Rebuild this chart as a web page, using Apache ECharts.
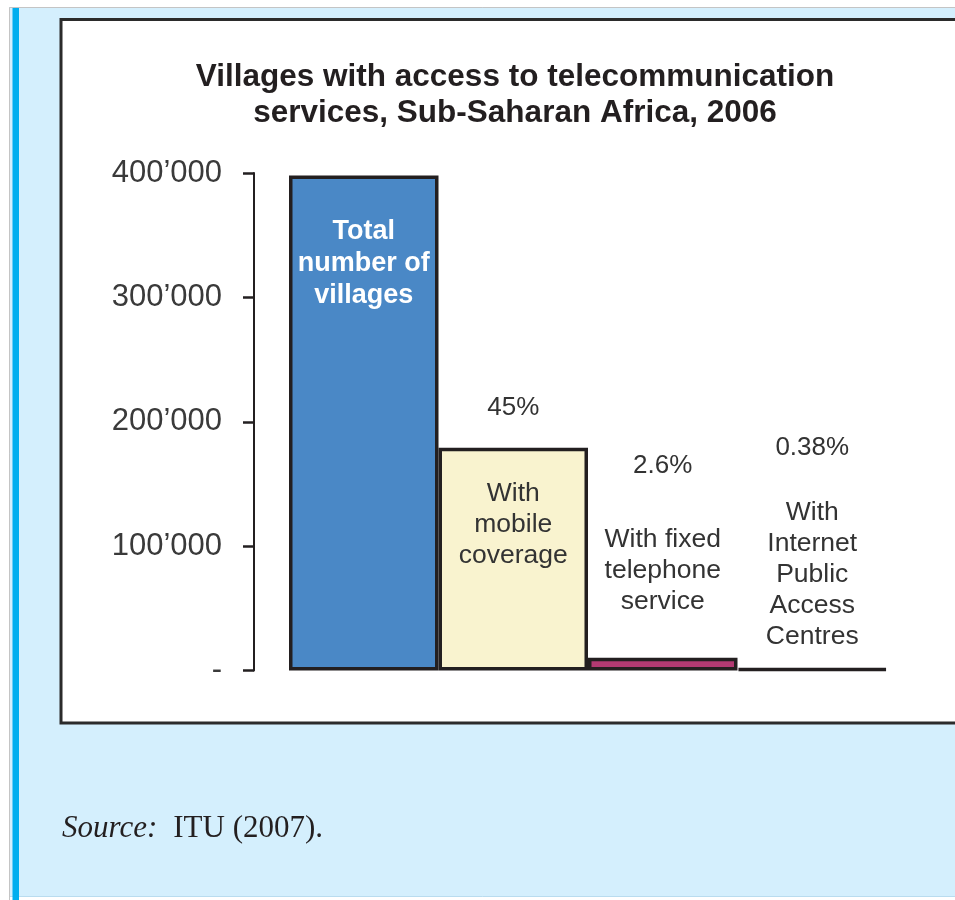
<!DOCTYPE html>
<html>
<head>
<meta charset="utf-8">
<title>Villages with access to telecommunication services, Sub-Saharan Africa, 2006</title>
<script src="https://cdn.jsdelivr.net/npm/echarts@6/dist/echarts.min.js"></script>
<style>
  html, body { margin: 0; padding: 0; background: #ffffff; }
  #chart { width: 955px; height: 900px; }
</style>
</head>
<body>
<div id="chart"></div>
<script>
// Villages in Sub-Saharan Africa (2006) and how many have each kind of service
const categories = [
  'Total number of villages',
  'With mobile coverage',
  'With fixed telephone service',
  'With Internet Public Access Centres'
];
const villages = [398000, 179100, 10350, 1510];
const shares = ['', '45%', '2.6%', '0.38%'];
const barTexts = [
  ['Total', 'number of', 'villages'],
  ['With', 'mobile', 'coverage'],
  ['With fixed', 'telephone', 'service'],
  ['With', 'Internet', 'Public', 'Access', 'Centres']
];
const yTicks = [0, 100000, 200000, 300000, 400000];

const titleLines = ['Villages with access to telecommunication', 'services, Sub-Saharan Africa, 2006'];
const sourceNote = ['Source:', 'ITU (2007).'];

// bar fills
const barColors = ['#4a88c6', '#f9f3cf', '#b23a72', '#b23a72'];

// label placement relative to each bar's top edge: [offset of text block, gap under share line]
const labelPlacement = [[40.5, 0], [-55.7, 54.5], [-207.6, 42.5], [-235.6, 32.5]];

const SANS = '"Liberation Sans", Arial, Helvetica, sans-serif';
const SERIF = '"Liberation Serif", "Times New Roman", serif';

function fmtTick(v) {
  if (v === 0) return '-';
  const s = String(Math.round(v));
  return s.replace(/\B(?=(\d{3})+(?!\d))/g, '\u2019');
}

const seriesData = villages.map(function (v, i) {
  const lines = barTexts[i];
  let formatter;
  if (i === 0) {
    formatter = lines.map(function (t) { return '{b|' + t + '}'; }).join('\n');
  } else {
    formatter = ['{p|' + shares[i] + '}', '{g| }']
      .concat(lines.map(function (t) { return '{t|' + t + '}'; }))
      .join('\n');
  }
  return {
    value: v,
    name: categories[i],
    itemStyle: { color: barColors[i] },
    label: {
      show: true,
      position: ['50%', labelPlacement[i][0]],
      align: 'center',
      verticalAlign: 'top',
      formatter: formatter,
      rich: {
        b: { fontFamily: SANS, fontWeight: 'bold', fontSize: 27, color: '#ffffff', lineHeight: 32, align: 'center' },
        p: { fontFamily: SANS, fontSize: 26, color: '#333333', lineHeight: 32, align: 'center' },
        g: { fontSize: 4, lineHeight: labelPlacement[i][1] },
        t: { fontFamily: SANS, fontSize: 26.5, color: '#333333', lineHeight: 31, align: 'center' }
      }
    }
  };
});

const chart = echarts.init(document.getElementById('chart'), null, { renderer: 'canvas' });

chart.setOption({
  animation: false,
  backgroundColor: '#ffffff',
  graphic: {
    elements: [
      // page panel with grey outline
      { type: 'rect', z: -30, silent: true,
        shape: { x: 9.5, y: 7.5, width: 960, height: 889 },
        style: { fill: '#d4effd', stroke: '#b9dcef', lineWidth: 1 } },
      { type: 'line', z: -29, silent: true,
        shape: { x1: 9.5, y1: 7.5, x2: 955, y2: 7.5 },
        style: { stroke: '#c4c4c4', lineWidth: 1 } },
      { type: 'line', z: -29, silent: true,
        shape: { x1: 9.5, y1: 7.5, x2: 9.5, y2: 900 },
        style: { stroke: '#c4c4c4', lineWidth: 1 } },
      // accent stripe on the left
      { type: 'rect', z: -28, silent: true,
        shape: { x: 12.5, y: 8, width: 6.5, height: 892 },
        style: { fill: '#00aeef' } },
      // white chart box
      { type: 'rect', z: -27, silent: true,
        shape: { x: 61, y: 19.5, width: 920, height: 703.5 },
        style: { fill: '#ffffff', stroke: '#2b2b2b', lineWidth: 3 } },
      // title
      { type: 'text', z: 5, silent: true,
        x: 515, y: 59,
        style: {
          text: titleLines.join('\n'),
          font: 'bold 31.5px ' + SANS,
          fill: '#231f20',
          align: 'center',
          verticalAlign: 'top',
          lineHeight: 36
        } },
      // source note
      { type: 'text', z: 5, silent: true,
        x: 62, y: 829,
        style: {
          text: '{i|' + sourceNote[0] + '}{r|' + sourceNote[1] + '}',
          verticalAlign: 'middle',
          rich: {
            i: { fontFamily: SERIF, fontStyle: 'italic', fontSize: 31, fill: '#231f20' },
            r: { fontFamily: SERIF, fontSize: 31, fill: '#231f20', padding: [0, 0, 0, 16] }
          }
        } }
    ]
  },
  grid: {
    left: 289,
    right: 68,
    top: 173,
    bottom: 229.5,
    containLabel: false,
    outerBoundsMode: 'none'
  },
  xAxis: {
    type: 'category',
    data: categories,
    axisLine: { show: false },
    axisTick: { show: false },
    axisLabel: { show: false },
    splitLine: { show: false }
  },
  yAxis: {
    type: 'value',
    min: yTicks[0],
    max: yTicks[yTicks.length - 1],
    interval: yTicks[1] - yTicks[0],
    offset: 35,
    axisLine: { show: true, lineStyle: { color: '#231f20', width: 2 } },
    axisTick: { show: true, inside: false, length: 11, lineStyle: { color: '#231f20', width: 2.5 } },
    splitLine: { show: false },
    axisLabel: {
      margin: 32,
      fontFamily: SANS,
      fontSize: 31,
      color: '#3a3a3a',
      formatter: fmtTick
    }
  },
  series: [{
    type: 'bar',
    data: seriesData,
    barCategoryGap: '0%',
    itemStyle: { borderColor: '#231f20', borderWidth: 3.5 },
    emphasis: { disabled: true }
  }]
});
</script>
</body>
</html>
